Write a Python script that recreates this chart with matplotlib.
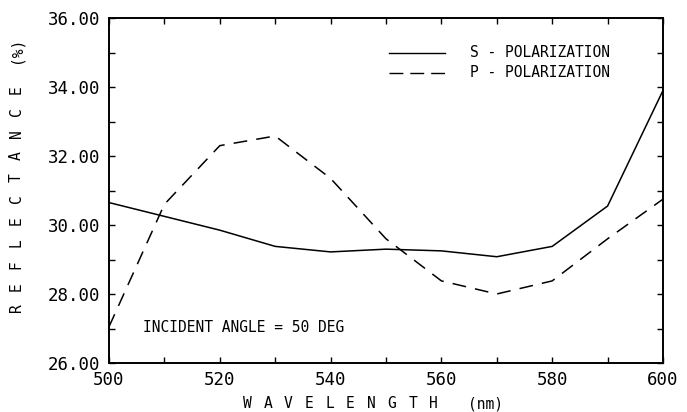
import numpy as np
from matplotlib import pyplot as plt
from matplotlib.ticker import MultipleLocator, FormatStrFormatter

#%%  Data
wavelength = [500, 510, 520, 530, 540, 550, 560, 570, 580, 590, 600]
s_pol = [30.65, 30.25, 29.85, 29.38, 29.22, 29.30, 29.25, 29.08, 29.38, 30.55, 33.90]
p_pol = [27.05, 30.60, 32.30, 32.58, 31.35, 29.60, 28.38, 28.00, 28.38, 29.60, 30.75]

xlabel = "WAVELENGTH"
ylabel = "REFLECTANCE"

plt.rcParams['font.family'] = 'DejaVu Sans Mono'

W, H = 687, 412

#%%  Figure
fig = plt.figure(figsize=(W / 100, H / 100), dpi=100)
ax = fig.add_axes([109 / W, 1 - 363 / H, 554 / W, 345 / H])

ax.plot(wavelength, s_pol, color='black', lw=1.1)
ax.plot(wavelength, p_pol, color='black', lw=1.1, dashes=(9, 6))

ax.set_xlim(500, 600)
ax.set_ylim(26, 36)
ax.xaxis.set_major_locator(MultipleLocator(20))
ax.xaxis.set_minor_locator(MultipleLocator(10))
ax.yaxis.set_major_locator(MultipleLocator(2))
ax.yaxis.set_minor_locator(MultipleLocator(1))
ax.yaxis.set_major_formatter(FormatStrFormatter('%.2f'))
ax.tick_params(which='both', direction='in', top=True, right=True, width=1.0, length=4)
ax.tick_params(which='major', labelsize=12.5, pad=6)
for sp in ax.spines.values():
    sp.set_linewidth(1.4)

# spaced-out axis titles, one letter at a time (plotter style)
for i, ch in enumerate(xlabel):
    fig.text((247 + 20.7 * i) / W, 1 - 404 / H, ch, fontsize=10.5, ha='center', va='center')
fig.text(485 / W, 1 - 404 / H, "(nm)", fontsize=10.5, ha='center', va='center')
for i, ch in enumerate(ylabel):
    fig.text(16 / W, 1 - (308 - 21.8 * i) / H, ch, fontsize=10.5, ha='center', va='center',
             rotation=90)
fig.text(16 / W, 1 - 50 / H, "(%)", fontsize=10.5, ha='center', va='center', rotation=90)

#%%  Legend drawn by hand
ax.plot([550.5, 560.6], [34.99, 34.99], color='black', lw=1.0)
ax.plot([550.5, 560.6], [34.41, 34.41], color='black', lw=1.0, dashes=(10, 5))
ax.text(565.2, 34.99, 'S - POLARIZATION', fontsize=10.5, va='center')
ax.text(565.2, 34.41, 'P - POLARIZATION', fontsize=10.5, va='center')

ax.text(506.1, 27.04, 'INCIDENT ANGLE = 50 DEG', fontsize=10.5, va='center')

fig.savefig('out.png', dpi=100)
